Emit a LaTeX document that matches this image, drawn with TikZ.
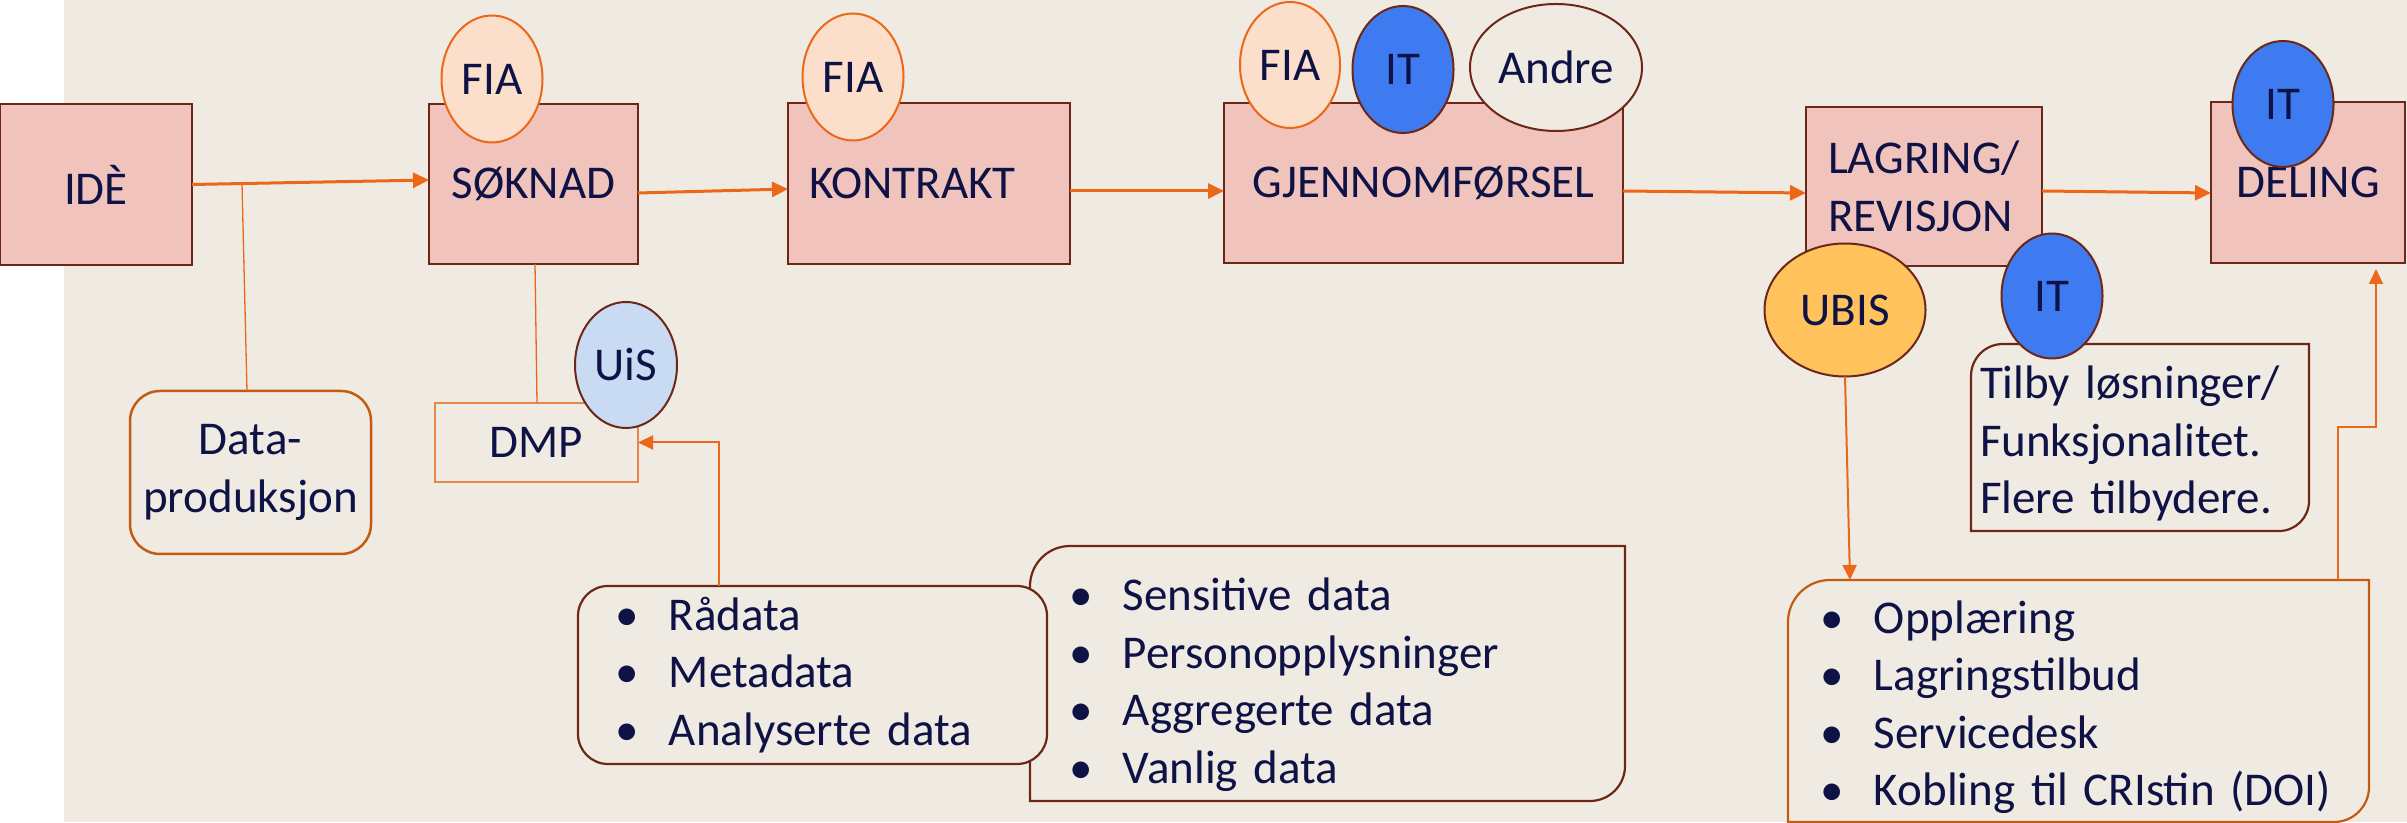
\documentclass[tikz,border=0pt]{standalone}
\usepackage{fontspec}
\setmainfont{Carlito}
\usetikzlibrary{shapes.geometric,arrows.meta,calc}
\definecolor{bgc}{HTML}{EFEBE3}
\definecolor{pnk}{HTML}{F0C3BC}
\definecolor{brn}{HTML}{6E2617}
\definecolor{org}{HTML}{EC6718}
\definecolor{fiac}{HTML}{FCDFCA}
\definecolor{itc}{HTML}{3F7BF0}
\definecolor{ubisc}{HTML}{FFC25C}
\definecolor{uisc}{HTML}{C9DBF3}
\definecolor{txt}{HTML}{0E1245}
\definecolor{dpc}{HTML}{C55A11}
\definecolor{dmpc}{HTML}{E3884A}
\newcommand\mybul{\makebox[54pt][l]{•}}
% #1 style, #2 node, #3 top-left radius, #4 bottom-right radius, #5 vertical offset of the outline
\newcommand\diagoutline[5]{\draw[#1] ([yshift=#5-#3]#2.north west) arc[start angle=180,end angle=90,radius=#3] -- ([yshift=#5]#2.north east) -- ([yshift=#5+#4]#2.south east) arc[start angle=0,end angle=-90,radius=#4] -- ([yshift=#5]#2.south west) -- cycle;}
\begin{document}
\begin{tikzpicture}[x=1pt,y=1pt,
  every node/.style={inner sep=0pt, outer sep=0pt, text=txt, font=\fontsize{47}{57.5}\selectfont},
  pinkbox/.style={rectangle, draw=brn, fill=pnk, line width=2.6pt},
  oval/.style={ellipse, draw=brn, line width=2pt},
  fiaoval/.style={ellipse, draw=org, fill=fiac, line width=2pt, minimum width=101pt, minimum height=127pt},
  itoval/.style={oval, fill=itc, minimum width=101pt, minimum height=126pt},
  arr/.style={draw=org, line width=3pt, -{Triangle[length=16pt,width=15pt]}},
  arrsm/.style={draw=org, line width=2pt, -{Triangle[length=15pt,width=14pt]}},
  thinl/.style={draw=org, line width=1.3pt},
  listline/.style={draw=brn, line width=2.2pt},
  oppline/.style={draw=dpc, line width=2.2pt},
  listbox/.style={rectangle, align=left}
]
\useasboundingbox (0,0) rectangle (2407,822);
\fill[bgc] (64,0) rectangle (2407,822);

% main process boxes
\node[pinkbox, minimum width=192pt, minimum height=161pt] (ide) at (96,637.5) {IDÈ};
\node[pinkbox, minimum width=209pt, minimum height=160pt] (soknad) at (533.5,638) {SØKNAD};
\node[pinkbox, minimum width=282pt, minimum height=161pt, inner xsep=21pt, text width=240pt, align=left] (kontrakt) at (929,638.5) {KONTRAKT};
\node[pinkbox, minimum width=399pt, minimum height=160pt] (gjennom) at (1423.5,639) {GJENNOMFØRSEL};
\node[pinkbox, minimum width=236pt, minimum height=159pt, align=left] (lagring) at (1924,635.5) {LAGRING/\\REVISJON};
\node[pinkbox, minimum width=194pt, minimum height=161pt] (deling) at (2308,639.5) {DELING};

% actor ovals on the boxes
\node[fiaoval] (fia1) at (492,743) {FIA};
\node[fiaoval] (fia2) at (853,745) {FIA};
\node[fiaoval, minimum width=100pt, minimum height=126pt] (fia3) at (1290,757) {FIA};
\node[itoval, minimum height=127pt] (it1) at (1403,752.5) {IT};
\node[oval, fill=bgc, minimum width=172pt, minimum height=127pt] (andre) at (1556,754.5) {Andre};
\node[itoval] (it2) at (2283,718) {IT};

% Data-produksjon and DMP
\node[rectangle, rounded corners=30pt, draw=dpc, fill=bgc, line width=2.5pt, minimum width=241pt, minimum height=163pt, align=center] (dataprod) at (250.5,349.5) {Data-\\produksjon};
\node[rectangle, draw=dmpc, fill=bgc, line width=1.5pt, minimum width=203pt, minimum height=79pt] (dmp) at (536.5,379.5) {DMP};
\node[oval, fill=uisc, minimum width=102pt, minimum height=126pt] (uis) at (626,457) {UiS};

% data lists
\node[listbox, minimum width=595pt, minimum height=255pt, inner xsep=39pt, text width=517pt] (sens) at (1327.5,137.5)
  {\mybul Sensitive data\\\mybul Personopplysninger\\\mybul Aggregerte data\\\mybul Vanlig data};
\diagoutline{listline}{sens}{40pt}{35pt}{11pt}
\node[listbox, rounded corners=30pt, draw=brn, fill=bgc, line width=2.2pt, minimum width=469pt, minimum height=178pt, inner xsep=37pt, text width=395pt] (raadata) at (812.5,147)
  {\mybul Rådata\\\mybul Metadata\\\mybul Analyserte data};

% right part
\node[listbox, minimum width=338pt, minimum height=187pt, inner xsep=9pt, text width=320pt] (tilby) at (2140,378.5)
  {Tilby løsninger/\\Funksjonalitet.\\Flere tilbydere.};
\diagoutline{listline}{tilby}{32pt}{30pt}{6pt}
\node[oval, fill=ubisc, minimum width=161pt, minimum height=133pt] (ubis) at (1845,512) {UBIS};
\node[itoval, minimum height=125pt] (it3) at (2052,526) {IT};
\node[listbox, minimum width=581pt, minimum height=242pt, inner xsep=32pt, text width=517pt] (opp) at (2078.5,115)
  {\mybul Opplæring\\\mybul Lagringstilbud\\\mybul Servicedesk\\\mybul Kobling til CRIstin (DOI)};
\diagoutline{oppline}{opp}{42pt}{35pt}{6pt}

% connectors
\coordinate (j1) at (242,638);
\draw[arr] (ide.east) -- ([yshift=4pt]soknad.west);
\draw[arr] ([yshift=-9pt]soknad.east) -- ([yshift=-5.5pt]kontrakt.west);
\draw[arr] ([yshift=-7.5pt]kontrakt.east) -- ([yshift=-8pt]gjennom.west);
\draw[arr] ([yshift=-8pt]gjennom.east) -- ([yshift=-6.5pt]lagring.west);
\draw[arr] ([yshift=-4.5pt]lagring.east) -- ([yshift=-10.5pt]deling.west);
\draw[thinl] (j1) -- ([xshift=-3.5pt]dataprod.north);
\draw[thinl] ([xshift=1.5pt]soknad.south) -- ([xshift=0.5pt]dmp.north);
\draw[arrsm] ([xshift=-93.5pt]raadata.north) |- (dmp.east);
\draw[arrsm] (ubis.south) -- ([xshift=-228.5pt,yshift=6pt]opp.north);
\draw[arrsm, line width=1.8pt] ([xshift=259.5pt,yshift=6pt]opp.north) -- ++(0,153) -| ([xshift=68pt,yshift=-6pt]deling.south);
\end{tikzpicture}
\end{document}
